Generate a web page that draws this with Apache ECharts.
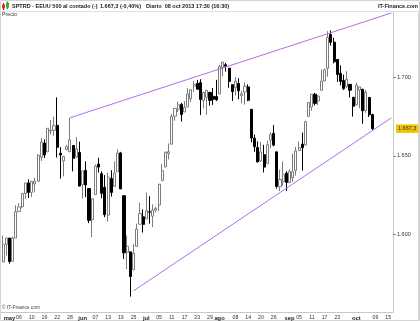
<!DOCTYPE html>
<html><head><meta charset="utf-8">
<script src="https://cdn.jsdelivr.net/npm/echarts@6/dist/echarts.min.js"></script>
<style>html,body{margin:0;padding:0;background:#fff;overflow:hidden}#c{width:420px;height:321px}</style>
</head><body><div id="c"></div>
<script>
// ---- data ----
const dates = ['04-29','04-30',
'05-01','05-02','05-03','05-06','05-07','05-08','05-09','05-10','05-13','05-14','05-15','05-16','05-17','05-20','05-21','05-22','05-23','05-24','05-27','05-28','05-29','05-30','05-31',
'06-03','06-04','06-05','06-06','06-07','06-10','06-11','06-12','06-13','06-14','06-17','06-18','06-19','06-20','06-21','06-24','06-25','06-26','06-27','06-28',
'07-01','07-02','07-03','07-04','07-05','07-08','07-09','07-10','07-11','07-12','07-15','07-16','07-17','07-18','07-19','07-22','07-23','07-24','07-25','07-26','07-29','07-30','07-31',
'08-01','08-02','08-05','08-06','08-07','08-08','08-09','08-12','08-13','08-14','08-15','08-16','08-19','08-20','08-21','08-22','08-23','08-26','08-27','08-28','08-29','08-30',
'09-02','09-03','09-04','09-05','09-06','09-09','09-10','09-11','09-12','09-13','09-16','09-17','09-18','09-19','09-20','09-23','09-24','09-25','09-26','09-27','09-30',
'10-01','10-02','10-03','10-04','10-07','10-08'];
const futureDates = ['10-09','10-10','10-11','10-14','10-15','10-16'];

const open = [1582.3,1593.6,
1597.6,1582.8,1597.6,1614.4,1617.6,1626.0,1632.7,1626.7,1632.1,1633.8,1649.1,1658.1,1652.5,1665.7,1666.2,1669.4,1651.6,1646.7,1654.0,1652.6,1656.6,1649.1,1652.1,
1631.7,1640.7,1629.1,1609.3,1625.3,1644.7,1638.6,1629.9,1612.2,1635.5,1630.6,1639.8,1651.8,1624.6,1588.6,1588.8,1577.5,1592.3,1606.4,1611.1,
1609.8,1614.3,1611.5,1615.4,1618.7,1634.2,1642.9,1651.6,1657.4,1675.3,1679.6,1682.7,1677.9,1681.1,1686.2,1694.4,1696.1,1696.6,1685.2,1687.3,1690.3,1687.9,1687.8,
1689.4,1706.1,1708.0,1705.8,1695.3,1693.4,1696.1,1688.4,1690.7,1693.9,1679.6,1661.2,1655.3,1646.8,1650.7,1645.0,1659.9,1664.3,1652.5,1630.3,1633.5,1638.9,
1633.0,1636.0,1640.7,1653.3,1657.4,1656.9,1675.1,1681.0,1689.2,1685.0,1691.7,1697.7,1705.7,1727.3,1722.4,1711.4,1702.6,1698.0,1694.1,1695.5,1687.3,
1682.4,1691.9,1692.4,1678.8,1687.2,1676.2];
const high = [1599.2,1597.6,
1597.6,1598.6,1618.5,1619.8,1626.0,1632.8,1635.0,1633.7,1636.0,1651.1,1661.5,1660.5,1667.5,1672.8,1674.9,1687.2,1655.5,1649.8,1657.0,1674.2,1656.6,1661.9,1659.0,
1640.4,1646.5,1629.3,1622.6,1644.4,1648.7,1640.1,1637.7,1639.3,1640.8,1646.5,1654.2,1652.5,1624.6,1599.2,1588.8,1593.8,1606.8,1620.1,1615.9,
1626.6,1624.3,1619.0,1617.5,1632.1,1644.7,1652.6,1657.9,1676.6,1680.2,1684.5,1683.7,1684.8,1693.1,1692.1,1697.6,1698.4,1698.8,1690.9,1691.9,1690.9,1693.2,1698.4,
1707.9,1709.7,1709.2,1705.8,1695.3,1700.2,1699.4,1691.5,1696.8,1695.5,1679.6,1663.6,1659.2,1658.9,1657.0,1659.6,1664.9,1669.5,1652.5,1641.2,1646.4,1640.1,
1641.5,1651.4,1655.7,1659.2,1664.8,1672.4,1684.1,1689.1,1690.0,1688.7,1705.0,1705.5,1729.4,1729.9,1725.2,1711.4,1707.6,1701.7,1703.9,1695.5,1687.3,
1696.6,1693.9,1692.4,1691.9,1687.2,1676.8];
const low = [1582.3,1586.5,
1581.3,1582.8,1597.6,1614.2,1616.6,1622.7,1623.1,1623.7,1626.7,1633.8,1646.7,1648.6,1652.5,1663.5,1662.7,1648.9,1635.5,1636.9,1653.5,1652.6,1640.1,1648.6,1630.7,
1622.7,1623.6,1607.1,1598.2,1625.3,1639.3,1622.9,1610.9,1608.1,1624.0,1630.3,1639.8,1628.9,1584.3,1577.7,1560.3,1577.1,1592.3,1606.4,1601.1,
1609.8,1606.8,1604.6,1613.8,1614.7,1634.2,1642.9,1647.7,1657.4,1672.3,1677.9,1671.8,1677.9,1681.1,1684.1,1690.7,1692.1,1676.0,1680.1,1676.0,1681.9,1682.4,1684.9,
1689.4,1700.7,1703.6,1693.3,1684.9,1688.4,1686.0,1683.4,1682.6,1684.8,1658.6,1652.6,1645.8,1646.1,1639.4,1645.0,1654.8,1656.0,1629.1,1627.5,1630.9,1627.5,
1632.5,1633.4,1637.4,1653.1,1640.6,1656.9,1675.1,1678.7,1682.0,1682.2,1691.7,1697.7,1700.4,1720.2,1708.9,1697.1,1694.9,1691.9,1693.1,1687.1,1675.0,
1682.1,1680.3,1670.4,1677.3,1674.7,1666.5];
const close = [1593.6,1597.6,
1582.7,1597.6,1614.4,1617.5,1626.0,1632.7,1626.7,1633.7,1633.8,1650.3,1658.8,1650.5,1667.5,1666.3,1669.2,1655.4,1650.5,1649.6,1655.8,1660.1,1648.4,1654.4,1630.7,
1640.4,1631.4,1608.9,1622.6,1643.4,1642.8,1626.1,1612.5,1636.4,1626.7,1639.0,1651.8,1628.9,1588.2,1592.4,1573.1,1588.0,1603.3,1613.2,1606.3,
1615.0,1614.1,1615.4,1616.5,1631.9,1640.5,1652.3,1652.6,1675.0,1680.2,1682.5,1676.3,1680.9,1689.4,1692.1,1695.5,1692.4,1685.9,1690.3,1691.7,1685.3,1686.0,1685.7,
1706.9,1709.7,1707.1,1697.4,1690.9,1697.5,1691.4,1689.5,1694.2,1685.4,1661.3,1655.8,1646.1,1652.4,1642.8,1657.0,1663.5,1656.8,1630.5,1635.0,1638.2,1633.0,
1640.0,1639.8,1653.1,1655.1,1655.2,1671.7,1684.0,1689.1,1683.4,1688.0,1697.6,1704.8,1725.5,1722.3,1709.9,1701.8,1697.4,1692.8,1698.7,1691.8,1681.6,
1695.0,1693.9,1678.7,1690.5,1676.1,1667.3];

const tickLabels = {'05-01':'may','05-06':'06','05-10':'10','05-16':'16','05-22':'22','05-28':'28',
'06-03':'jun','06-07':'07','06-13':'13','06-19':'19','06-25':'25',
'07-01':'jul','07-05':'05','07-11':'11','07-17':'17','07-23':'23','07-29':'29',
'08-01':'ago','08-08':'08','08-14':'14','08-20':'20','08-26':'26',
'09-02':'sep','09-05':'05','09-11':'11','09-17':'17','09-23':'23',
'10-01':'oct','10-09':'09','10-15':'15'};
const monthNames = ['may','jun','jul','ago','sep','oct'];
const yTicks = [1600,1650,1700];
const upperLine = [['05-28',1674.2],['10-16',1741.0]];
const lowerLine = [['06-25',1564.0],['10-16',1674.2]];
const lastPrice = 1667.3;
const headerTitle = 'SPTRD - EEUU 500 al contado (-)';
const headerPrice = '1.667,3 (-0,40%)';
const headerDate = 'Diario  08 oct 2013 17:30 (16:30)';

// ---- build ----
const categories = dates.concat(futureDates);
const candles = dates.map((d,i)=>[open[i],close[i],low[i],high[i]]);
const fmtPrice = v => { const s=v.toFixed(1).split('.'); const t=s[0].replace(/\B(?=(\d{3})+(?!\d))/g,'.'); return t+','+s[1]; };
const FONT = 'Liberation Sans, Arial, sans-serif';

const chart = echarts.init(document.getElementById('c'), null, {renderer:'canvas'});
chart.setOption({
  animation:false,
  backgroundColor:'#fff',
  grid:{left:1.5, right:27, top:12, bottom:9, containLabel:false},
  xAxis:{type:'category', data:categories, boundaryGap:true,
    axisLine:{show:true, lineStyle:{color:'#c8c8c8', width:1}},
    axisTick:{show:false},
    splitLine:{show:false},
    axisLabel:{
      interval:(i,v)=>tickLabels.hasOwnProperty(v),
      formatter:v=>{const t=tickLabels[v]||''; return monthNames.indexOf(t)>=0?'{b|'+t+'}':'{n|'+t+'}';},
      margin:3,
      rich:{b:{fontSize:5.8,fontWeight:'bold',fontFamily:FONT,color:'#222'},n:{fontSize:5.2,fontFamily:FONT,color:'#333'}}
    }},
  yAxis:{type:'value', position:'right', min:1550.5, max:1741.6, scale:true,
    axisLine:{show:true, lineStyle:{color:'#c8c8c8', width:1}},
    axisTick:{show:true, length:3, customValues:yTicks, lineStyle:{color:'#888'}},
    splitLine:{show:false},
    axisLabel:{customValues:yTicks, margin:4, fontSize:5.5, fontFamily:FONT, color:'#333',
      formatter:v=>(v/1000).toFixed(3)}},
  graphic:[
    {type:'rect', shape:{x:0.5,y:0.5,width:419,height:320}, style:{fill:'none',stroke:'#d4d4d4',lineWidth:1}, silent:true, z:-1},
    {type:'line', shape:{x1:0,y1:11.5,x2:420,y2:11.5}, style:{stroke:'#e2e2e2',lineWidth:1}, silent:true},
    {type:'line', shape:{x1:418.5,y1:11,x2:418.5,y2:321}, style:{stroke:'#d4d4d4',lineWidth:1}, silent:true},
    // icon
    {type:'line', shape:{x1:3.5,y1:3,x2:3.5,y2:10}, style:{stroke:'#c02020',lineWidth:1}},
    {type:'rect', shape:{x:2,y:4.5,width:3,height:4}, style:{fill:'#e02a2a'}},
    {type:'line', shape:{x1:7.5,y1:1.5,x2:7.5,y2:9}, style:{stroke:'#1a8a1a',lineWidth:1}},
    {type:'rect', shape:{x:6,y:2.5,width:3,height:5}, style:{fill:'#2db52d'}},
    {type:'text', x:12, y:6, style:{text:headerTitle, fontSize:5.5, fontWeight:'bold', fontFamily:FONT, fill:'#222', verticalAlign:'middle'}},
    {type:'text', x:100, y:6, style:{text:headerPrice, fontSize:5.5, fontWeight:'bold', fontFamily:FONT, fill:'#222', verticalAlign:'middle'}},
    {type:'text', x:146, y:6, style:{text:headerDate, fontSize:5.5, fontWeight:'bold', fontFamily:FONT, fill:'#222', verticalAlign:'middle'}},
    {type:'text', x:418, y:6, style:{text:'IT-Finance.com', fontSize:5.5, fontWeight:'bold', fontFamily:FONT, fill:'#222', align:'right', verticalAlign:'middle'}},
    {type:'text', x:2, y:15, style:{text:'Precio', fontSize:5.3, fontFamily:FONT, fill:'#333', verticalAlign:'middle'}},
    {type:'text', x:2, y:308, style:{text:'© IT-Finance.com', fontSize:4.8, fontFamily:FONT, fill:'#444', verticalAlign:'middle'}}
  ],
  series:[
    {type:'candlestick', data:candles, barWidth:2.6,
      itemStyle:{color:'#ffffff', color0:'#000000', borderColor:'#7c7c7c', borderColor0:'#000000', borderWidth:1},
      markLine:{symbol:'none', silent:true, data:[{yAxis:lastPrice}], lineStyle:{color:'rgba(0,0,0,0)', width:0},
        label:{show:true, position:'end', distance:3, formatter:()=>fmtPrice(lastPrice), backgroundColor:'#f2c400', color:'#333', fontSize:5.5, fontFamily:FONT, padding:[1.5,2,1,2]}}
    },
    {type:'line', data:upperLine, symbol:'none', silent:true, lineStyle:{color:'#b86ae8', width:1}, z:3},
    {type:'line', data:lowerLine, symbol:'none', silent:true, lineStyle:{color:'#b86ae8', width:1}, z:3}
  ]
});
</script>
</body></html>
